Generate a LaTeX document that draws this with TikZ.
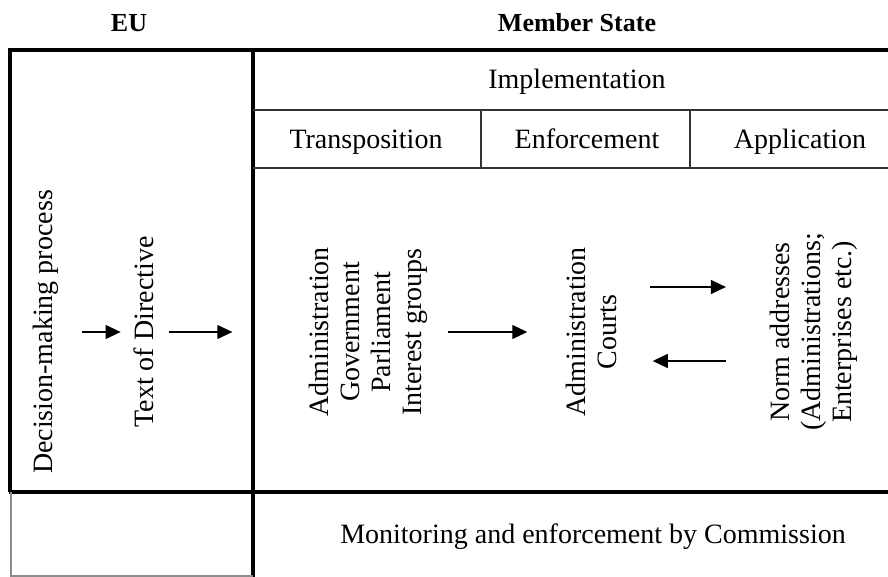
\documentclass[tikz,border=0pt]{standalone}
\usepackage{fontspec}
\setmainfont{Liberation Serif}
\usetikzlibrary{arrows.meta}

\begin{document}
\begin{tikzpicture}[x=0.5pt, y=-0.5pt,
    font=\fontsize{14}{15.5}\selectfont,
    head/.style={font=\bfseries\fontsize{13}{15}\selectfont, anchor=base},
    rot/.style={rotate=90, inner sep=0pt, align=center},
    arr/.style={-{Triangle[length=7.5pt,width=7pt]}, line width=0.6pt},
    thick line/.style={line width=2pt},
    thin line/.style={line width=0.6pt, black!80}]
    \useasboundingbox (0,0) rectangle (888,577);

    % Headers
    \node[head] (eu) at (129,32) {EU};
    \node[head] (ms) at (577,32) {Member State};

    % Frame
    \draw[thick line] (10,492) -- (10,50) -- (888,50);
    \draw[thick line] (253,50) -- (253,577);
    \draw[thick line] (9,492) -- (888,492);
    \draw[thin line] (253,110) -- (888,110);
    \draw[thin line] (253,168) -- (888,168);
    \draw[thin line] (481,110) -- (481,168);
    \draw[thin line] (690,110) -- (690,168);
    \draw[thin line, black!45] (11,492) -- (11,576) -- (253,576);

    % Row labels
    \node[anchor=base] (impl) at (577,89) {Implementation};
    \node[anchor=base] (tra) at (366,149) {Transposition};
    \node[anchor=base] (enfo) at (587,149) {Enforcement};
    \node[anchor=base] (appl) at (800,149) {Application};
    \node[anchor=base] (mon) at (593,543) {Monitoring and enforcement by Commission};

    % Rotated texts
    \node[rot] (dec) at (46,332) {Decision-making process};
    \node[rot] (dir) at (144,332) {Text of Directive};
    \node[rot] (trans) at (368,332) {Administration\\Government\\Parliament\\Interest groups};
    \node[rot] (enf) at (591,332) {Administration\\Courts};
    \node[rot] (norm) at (814,332) {Norm addresses\\(Administrations;\\Enterprises etc.)};

    % Arrows
    \draw[arr, shorten <=11.5pt, shorten >=6.5pt] (dec) -- (dir);
    \draw[arr, shorten <=7.5pt, shorten >=38pt] (dir) -- (trans);
    \draw[arr, shorten <=10pt, shorten >=19pt] (trans) -- (enf);
    \draw[arr, shorten <=16.5pt, shorten >=22pt] ([yshift=22.5pt]enf.south) -- ([yshift=22.5pt]norm.north);
    \draw[arr, shorten <=22pt, shorten >=18pt] ([yshift=-14.5pt]norm.north) -- ([yshift=-14.5pt]enf.south);
\end{tikzpicture}
\end{document}
